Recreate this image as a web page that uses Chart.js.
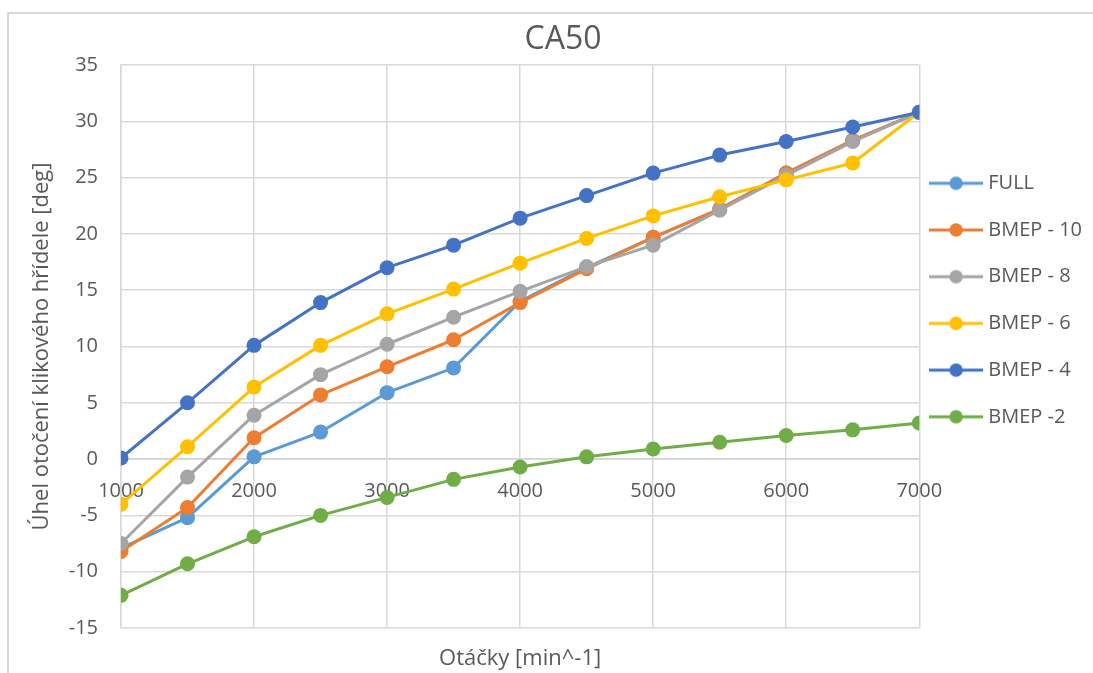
<!DOCTYPE html>
<html>
<head>
<meta charset="utf-8">
<title>CA50</title>
<script src="https://cdn.jsdelivr.net/npm/chart.js@4/dist/chart.umd.min.js"></script>
<style>
  html, body { margin: 0; padding: 0; background: #ffffff; overflow: hidden; }
  #wrap { position: relative; width: 1093px; height: 673px; }
  #frame { position: absolute; left: 7px; top: 12px; width: 1200px; height: 800px;
           border-left: 2px solid #d9d9d9; border-top: 2px solid #d9d9d9; }
  #c { position: absolute; left: 0; top: 0; }
</style>
</head>
<body>
<div id="wrap">
  <div id="frame"></div>
  <canvas id="c" width="1093" height="673"></canvas>
</div>
<script>
// Engine speed [min^-1]
const rpm = [1000, 1500, 2000, 2500, 3000, 3500, 4000, 4500, 5000, 5500, 6000, 6500, 7000];

// CA50 crank angle [deg] for each load case
const full   = [-7.9, -5.2, 0.2, 2.4, 5.9, 8.1, 14.0, 17.0, 19.7, 22.2, 25.4, 28.3, 30.8];
const bmep10 = [-8.2, -4.3, 1.9, 5.7, 8.2, 10.6, 13.9, 16.9, 19.7, 22.2, 25.4, 28.3, 30.8];
const bmep8  = [-7.5, -1.6, 3.9, 7.5, 10.2, 12.6, 14.9, 17.1, 19.0, 22.1, 25.2, 28.2, 30.8];
const bmep6  = [-4.0, 1.1, 6.4, 10.1, 12.9, 15.1, 17.4, 19.6, 21.6, 23.3, 24.8, 26.3, 30.8];
const bmep4  = [0.1, 5.0, 10.1, 13.9, 17.0, 19.0, 21.4, 23.4, 25.4, 27.0, 28.2, 29.5, 30.8];
const bmep2  = [-12.1, -9.3, -6.9, -5.0, -3.4, -1.8, -0.7, 0.2, 0.9, 1.5, 2.1, 2.6, 3.2];

const seriesNames  = ['FULL', 'BMEP - 10', 'BMEP - 8', 'BMEP - 6', 'BMEP - 4', 'BMEP -2'];
const seriesValues = [full, bmep10, bmep8, bmep6, bmep4, bmep2];
const seriesColors = ['#5B9BD5', '#ED7D31', '#A5A5A5', '#FFC000', '#4472C4', '#70AD47'];

// y axis range and step, x axis step
const yMin = -15, yMax = 35, yStep = 5;
const xMin = 1000, xMax = 7000, xStep = 1000;

const FONT = "'Open Sans', 'Noto Sans', sans-serif";
const TEXT = '#595959';
const GRID = '#d9d9d9';

// small line-with-marker swatch used as the legend symbol
function legendSwatch(color) {
  const c = document.createElement('canvas');
  c.width = 66; c.height = 16;
  const g = c.getContext('2d');
  g.strokeStyle = color;
  g.lineWidth = 3;
  g.beginPath(); g.moveTo(0, 8); g.lineTo(54, 8); g.stroke();
  g.fillStyle = color;
  g.beginPath(); g.arc(27, 8, 6.7, 0, Math.PI * 2); g.fill();
  return c;
}
const swatches = seriesColors.map(legendSwatch);

const datasets = seriesNames.map((name, i) => ({
  label: name,
  data: rpm.map((x, k) => ({ x: x, y: seriesValues[i][k] })),
  borderColor: seriesColors[i],
  backgroundColor: seriesColors[i],
  borderWidth: 3,
  borderJoinStyle: 'round',
  borderCapStyle: 'round',
  pointRadius: 7.5,
  pointHoverRadius: 7.5,
  pointBorderWidth: 0,
  tension: 0,
  order: seriesNames.length - i   // later series are painted on top
}));

new Chart(document.getElementById('c'), {
  type: 'line',
  data: { datasets: datasets },
  options: {
    responsive: false,
    devicePixelRatio: 1,
    animation: false,
    events: [],
    layout: { padding: { left: 34, right: 1, top: 0, bottom: 0 } },
    plugins: {
      title: {
        display: true,
        text: 'CA50',
        color: TEXT,
        font: { family: FONT, size: 32, weight: 'normal', lineHeight: 1.2 },
        padding: { top: 20.5, bottom: 6.1 }
      },
      legend: {
        display: true,
        position: 'right',
        align: 'start',
        fullSize: false,
        title: { display: true, text: '', font: { size: 12, lineHeight: 1 }, padding: { top: 69.6, bottom: 0 } },
        labels: {
          color: TEXT,
          font: { family: FONT, size: 20 },
          padding: 26.7,
          usePointStyle: true,
          pointStyleWidth: 32.3,
          sort: (a, b) => a.datasetIndex - b.datasetIndex,
          generateLabels: (chart) => {
            const items = Chart.defaults.plugins.legend.labels.generateLabels(chart);
            items.forEach(it => { it.pointStyle = swatches[it.datasetIndex]; });
            return items;
          }
        }
      },
      tooltip: { enabled: false }
    },
    scales: {
      x: {
        type: 'linear',
        position: { y: 0 },
        min: xMin, max: xMax,
        ticks: {
          stepSize: xStep, color: TEXT, font: { family: FONT, size: 20 }, padding: 20, maxRotation: 0,
          callback: (v) => String(v)
        },
        grid: { color: GRID, lineWidth: 1.5, drawTicks: false },
        border: { display: true, color: '#d0d0d0', width: 1.5 }
      },
      xTitle: {
        type: 'linear',
        axis: 'x',
        position: 'bottom',
        min: xMin, max: xMax,
        ticks: { display: false },
        grid: { display: false, drawTicks: false },
        border: { display: false },
        title: {
          display: true,
          text: 'Otáčky [min^-1]',
          color: TEXT,
          font: { family: FONT, size: 22, lineHeight: 1.2 },
          padding: { top: 0, bottom: 1 }
        },
        afterFit: (s) => { s.height = 45; }
      },
      y: {
        type: 'linear',
        position: 'left',
        min: yMin, max: yMax,
        ticks: { stepSize: yStep, color: TEXT, font: { family: FONT, size: 20 }, padding: 23 },
        grid: { color: GRID, lineWidth: 1.5, drawTicks: false },
        border: { display: true, color: GRID, width: 1.5 },
        title: {
          display: true,
          text: 'Úhel otočení klikového hřídele [deg]',
          color: TEXT,
          font: { family: FONT, size: 22, lineHeight: 0.7 },
          padding: { top: 0, bottom: 0 }
        },
        afterFit: (s) => { s.width = 87; }
      }
    }
  }
});
</script>
</body>
</html>
